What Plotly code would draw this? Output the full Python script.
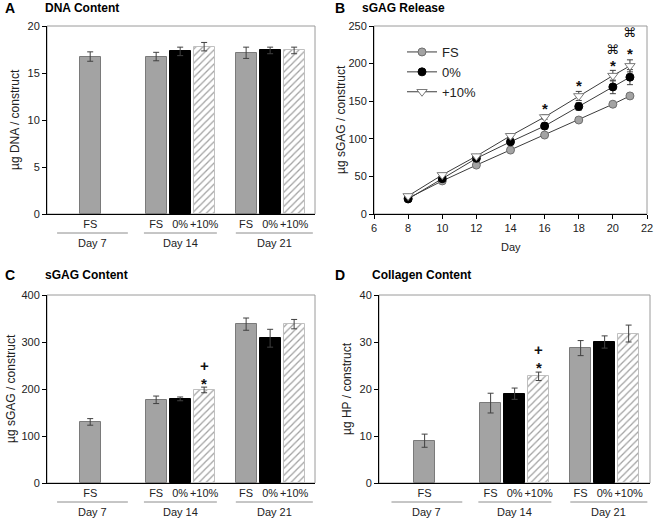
import plotly.graph_objects as go

W, H = 654, 518
FONT = "Liberation Sans, Arial, sans-serif"

# ---------------- data ----------------
bar_groups = ["Day 7", "Day 14", "Day 21"]
bar_labels = ["FS", "FS", "0%", "+10%", "FS", "0%", "+10%"]

dna_mean = [16.75, 16.75, 17.3, 17.8, 17.15, 17.4, 17.4]
dna_err = [0.5, 0.45, 0.45, 0.45, 0.6, 0.35, 0.35]

sgag_mean = [130, 177, 179, 198, 338, 308, 338]
sgag_err = [7, 8, 4, 6, 13, 19, 10]

col_mean = [9.0, 17.0, 19.0, 22.7, 28.7, 30.0, 31.8]
col_err = [1.4, 2.1, 1.2, 0.9, 1.6, 1.3, 1.8]

release_days = [8, 10, 12, 14, 16, 18, 20, 21]
release_fs = [21, 44, 65, 85, 105, 125, 146, 157]
release_fs_err = [1, 1, 1, 2, 2, 2, 2, 3]
release_0 = [20, 47, 74, 96, 117, 143, 169, 182]
release_0_err = [1, 2, 3, 4, 4, 5, 9, 10]
release_10 = [24, 52, 77, 104, 129, 157, 184, 197]
release_10_err = [1, 2, 2, 3, 3, 6, 7, 8]

sig_release_days = [16, 18, 20, 20, 21, 21]
sig_release_y = [146, 176, 203, 219, 219, 241]
sig_release_sym = ["*", "*", "*", "⌘", "*", "⌘"]

sig_sgag_bar = [3, 3]
sig_sgag_y = [221, 250]
sig_sgag_sym = ["*", "+"]

sig_col_bar = [3, 3]
sig_col_y = [25.5, 28.4]
sig_col_sym = ["*", "+"]

# ---------------- layout constants ----------------
bar_pos = [1.8, 4.55, 5.55, 6.55, 8.3, 9.3, 10.3]
group_span = [(0.42, 3.37), (4.04, 7.08), (7.87, 11.08)]
bar_w = 0.875

fill = {"FS": "#a3a3a3", "0%": "#000000", "+10%": "#ffffff"}
edge = {"FS": "#7a7a7a", "0%": "#000000", "+10%": "#c0c0c0"}
patt = {"FS": "", "0%": "", "+10%": "/"}


def px_x(p):
    return p / W


def px_y(p):
    return 1 - p / H


fig = go.Figure()

panels = {
    "A": dict(x=(47, 315), y=(26, 214)),
    "B": dict(x=(374, 647), y=(26, 214)),
    "C": dict(x=(47, 315), y=(295, 483)),
    "D": dict(x=(379, 650), y=(295, 483)),
}
axmap = {"A": ("x", "y"), "B": ("x2", "y2"), "C": ("x3", "y3"), "D": ("x4", "y4")}

axis_common = dict(showline=True, linecolor="#000000", linewidth=1, showgrid=False, automargin=False,
                   zeroline=False, tickfont=dict(family=FONT, size=11, color="#222222"))

annotations = []
shapes = []


def bar_panel(key, means, errs, ymax, dtick, xrange_):
    xa, ya = axmap[key]
    fig.add_trace(go.Bar(
        x=bar_pos, y=means, width=bar_w, xaxis=xa, yaxis=ya, showlegend=False,
        marker=dict(color=[fill[l] for l in bar_labels],
                    line=dict(color=[edge[l] for l in bar_labels], width=1),
                    pattern=dict(shape=[patt[l] for l in bar_labels], fgcolor="#a0a0a0",
                                 fillmode="overlay", size=5, solidity=0.25)),
        error_y=dict(type="data", array=errs, color="#404040", thickness=1, width=3),
    ))
    xn = "xaxis" + xa[1:]
    yn = "yaxis" + ya[1:]
    p = panels[key]
    fig.update_layout(**{
        xn: dict(axis_common, domain=[px_x(p["x"][0]), px_x(p["x"][1])], range=xrange_,
                 tickvals=bar_pos, ticktext=bar_labels, ticks="", tickangle=0, anchor=ya),
        yn: dict(axis_common, domain=[px_y(p["y"][1]), px_y(p["y"][0])], range=[0, ymax],
                 dtick=dtick, ticks="outside", ticklen=4, tickcolor="#000000", anchor=xa),
    })
    line_y = px_y(p["y"][1] + 19)
    lab_y = px_y(p["y"][1] + 29)
    for g, (a, b) in zip(bar_groups, group_span):
        shapes.append(dict(type="line", xref=xa, yref="paper", x0=a, x1=b, y0=line_y, y1=line_y,
                           line=dict(color="#8c8c8c", width=1)))
        annotations.append(dict(xref=xa, yref="paper", x=(a + b) / 2, y=lab_y, text=g,
                                xanchor="center", yanchor="middle",
                                showarrow=False, font=dict(family=FONT, size=11, color="#222222")))


def frame(key):
    xa, ya = axmap[key]
    shapes.append(dict(type="rect", xref=xa + " domain", yref=ya + " domain", x0=0, x1=1, y0=0, y1=1,
                       line=dict(color="#9a9a9a", width=1), layer="below"))


bar_panel("A", dna_mean, dna_err, 20, 5, [0, 11.17])
bar_panel("C", sgag_mean, sgag_err, 400, 100, [0, 11.17])
bar_panel("D", col_mean, col_err, 40, 10, [-0.1, 11.19])
for k in "ABCD":
    frame(k)

# ---- panel B: release curves ----
series = [
    ("FS", release_fs, release_fs_err, dict(symbol="circle", size=8, color="#a3a3a3",
                                             line=dict(color="#6e6e6e", width=1))),
    ("0%", release_0, release_0_err, dict(symbol="circle", size=8, color="#000000",
                                          line=dict(color="#000000", width=1))),
    ("+10%", release_10, release_10_err, dict(symbol="triangle-down", size=9, color="#ffffff",
                                              line=dict(color="#7a7a7a", width=1))),
]
for name, ys, es, mk in series:
    fig.add_trace(go.Scatter(
        x=release_days, y=ys, name=name, mode="lines+markers", xaxis="x2", yaxis="y2",
        line=dict(color="#3c3c3c", width=1), marker=mk,
        error_y=dict(type="data", array=es, color="#404040", thickness=1, width=3),
    ))

pB = panels["B"]
fig.update_layout(
    xaxis2=dict(axis_common, domain=[px_x(pB["x"][0]), px_x(pB["x"][1])], range=[6, 22], dtick=2,
                ticks="outside", ticklen=4, tickcolor="#000000", anchor="y2"),
    yaxis2=dict(axis_common, domain=[px_y(pB["y"][1]), px_y(pB["y"][0])], range=[0, 250], dtick=50,
                ticks="outside", ticklen=4, tickcolor="#000000", anchor="x2"),
)


def sig_note(xref, yref, x, y, s):
    if s == "⌘":
        return dict(xref=xref, yref=yref, x=x, y=y, text=s, showarrow=False,
                    font=dict(family="DejaVu Sans", size=13, color="#111111"))
    shift = -4 if s == "*" else 0
    return dict(xref=xref, yref=yref, x=x, y=y, text="<b>%s</b>" % s, showarrow=False, yshift=shift,
                font=dict(family=FONT, size=15, color="#111111"))


for d, yv, s in zip(sig_release_days, sig_release_y, sig_release_sym):
    annotations.append(sig_note("x2", "y2", d, yv, s))
for b, yv, s in zip(sig_sgag_bar, sig_sgag_y, sig_sgag_sym):
    annotations.append(sig_note("x3", "y3", bar_pos[b], yv, s))
for b, yv, s in zip(sig_col_bar, sig_col_y, sig_col_sym):
    annotations.append(sig_note("x4", "y4", bar_pos[b], yv, s))

# titles, panel letters, y-axis titles
titles = [("A", 3, 8, 43, "DNA Content"), ("B", 333, 8, 360, "sGAG Release"),
          ("C", 3, 275, 43, "sGAG Content"), ("D", 333, 275, 370, "Collagen Content")]
for letter, lx, ly, tx, t in titles:
    annotations.append(dict(xref="paper", yref="paper", x=px_x(lx), y=px_y(ly), xanchor="left",
                            yanchor="middle", text="<b>%s</b>" % letter, showarrow=False,
                            font=dict(family=FONT, size=14, color="#000000")))
    annotations.append(dict(xref="paper", yref="paper", x=px_x(tx), y=px_y(ly), xanchor="left",
                            yanchor="middle", text="<b>%s</b>" % t, showarrow=False,
                            font=dict(family=FONT, size=12, color="#000000")))

ytitles = [(15, 120, "µg DNA / construct"), (341, 120, "µg sGAG / construct"),
           (11, 389, "µg sGAG / construct"), (347, 389, "µg HP / construct")]
for x, y, t in ytitles:
    annotations.append(dict(xref="paper", yref="paper", x=px_x(x), y=px_y(y), text=t, textangle=-90,
                            showarrow=False, xanchor="center", yanchor="middle",
                            font=dict(family=FONT, size=12, color="#222222")))
annotations.append(dict(xref="paper", yref="paper", x=px_x(511), y=px_y(247), text="Day",
                        xanchor="center", yanchor="middle",
                        showarrow=False, font=dict(family=FONT, size=11, color="#222222")))

fig.update_layout(
    template="none",
    width=W, height=H, margin=dict(l=0, r=0, t=0, b=0, pad=0, autoexpand=False),
    paper_bgcolor="#ffffff", plot_bgcolor="#ffffff",
    annotations=annotations, shapes=shapes, bargap=0,
    legend=dict(x=px_x(402), y=px_y(37), xanchor="left", yanchor="top",
                bgcolor="rgba(0,0,0,0)", font=dict(family=FONT, size=13, color="#222222"),
                tracegroupgap=0, itemwidth=30),
    font=dict(family=FONT),
)

fig.write_html("out.html", config={"displayModeBar": False},
               post_script="document.body.style.margin='0px';")
